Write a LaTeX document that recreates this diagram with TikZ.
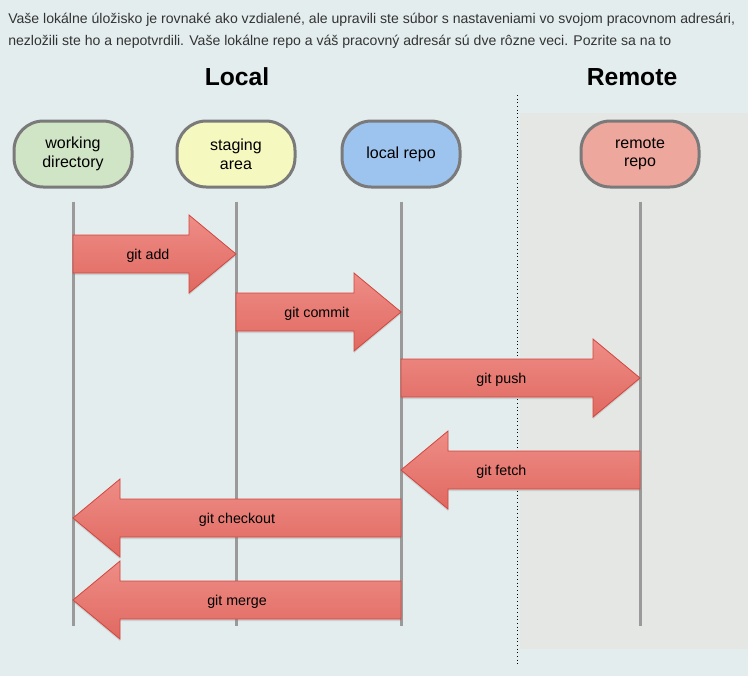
\documentclass[tikz,border=0pt]{standalone}
\usepackage{fontspec}
\setmainfont{Liberation Sans}
\usetikzlibrary{calc,shadows}
\definecolor{pagebg}{HTML}{E4EDEE}
\definecolor{remotebg}{HTML}{E5E7E4}
\definecolor{introgray}{HTML}{333333}
\definecolor{stageline}{HTML}{7A7A7A}
\definecolor{lifegray}{HTML}{9A9A9A}
\definecolor{wdfill}{HTML}{D0E4C6}
\definecolor{safill}{HTML}{F5F8BF}
\definecolor{lrfill}{HTML}{9DC4EF}
\definecolor{rrfill}{HTML}{EDA79D}
\definecolor{arrowtop}{HTML}{EE8D86}
\definecolor{arrowbottom}{HTML}{E06961}
\definecolor{arrowline}{HTML}{D0463E}
\begin{document}
\begin{tikzpicture}[x=0.75pt, y=-0.75pt]
    \tikzset{
        stage/.style     = {draw=stageline, line width=2.25pt, rounded corners=22pt,
                            minimum width=88.5pt, minimum height=49.5pt, align=center,
                            font=\fontsize{12}{14}\selectfont},
        lifeline/.style  = {draw=lifegray, line width=2.25pt},
        gitarrow/.style  = {draw=arrowline, line width=0.6pt, top color=arrowtop,
                            bottom color=arrowbottom,
                            drop shadow={opacity=0.25, shadow xshift=0pt, shadow yshift=-1.5pt}},
        arrowlabel/.style = {font=\fontsize{10.7}{12}\selectfont, yshift=-1.5pt},
        heading/.style   = {font=\fontsize{18.5}{22}\selectfont\bfseries},
        intro/.style     = {anchor=west, inner sep=0pt, text=introgray,
                            font=\fontsize{10.55}{12}\selectfont}
    }
    \path[use as bounding box, fill=pagebg] (0,0) rectangle (748,676);
    \fill[remotebg] (520,113) rectangle (748,649);

    \node[intro] (line1) at (8,20) {Vaše lokálne úložisko je rovnaké ako vzdialené, ale upravili ste súbor s nastaveniami vo svojom pracovnom adresári,};
    \node[intro] (line2) at (8,42) {nezložili ste ho a nepotvrdili. Vaše lokálne repo a váš pracovný adresár sú dve rôzne veci. Pozrite sa na to};

    \node[heading] (local)  at (237,77) {Local};
    \node[heading] (remote) at (632,77) {Remote};
    \coordinate (splittop) at (517,95);
    \coordinate (splitbot) at (517,665);
    \draw[dotted, line width=0.75pt] (splittop) -- (splitbot);

    \node[stage, fill=wdfill] (wd) at (73,154)  {working\\directory};
    \node[stage, fill=safill] (sa) at (236,154) {staging\\area};
    \node[stage, fill=lrfill] (lr) at (401,154) {local repo};
    \node[stage, fill=rrfill] (rr) at (640,154) {remote\\repo};

    \foreach \n in {wd,sa,lr,rr}
        \draw[lifeline] (\n.south) ++(0,13) -- (\n |- 0,626);

    % block arrows between the lifelines
    \foreach \src/\dst/\yy/\pos/\txt in {wd/sa/254/0.46/git add,
                                          sa/lr/312/0.49/git commit,
                                          lr/rr/378/0.42/git push,
                                          rr/lr/470/0.58/git fetch,
                                          lr/wd/518/0.5/git checkout,
                                          lr/wd/600/0.5/git merge}
        \path[gitarrow] let \p1 = (\src |- 0,\yy), \p2 = (\dst |- 0,\yy),
                            \n1 = {sign(\x2-\x1)} in
            (\x1,\y1+14.25pt) -- ({\x2-35.25pt*\n1},\y1+14.25pt)
            -- ({\x2-35.25pt*\n1},\y1+29.25pt) -- (\p2)
            -- ({\x2-35.25pt*\n1},\y1-29.25pt) -- ({\x2-35.25pt*\n1},\y1-14.25pt)
            -- (\x1,\y1-14.25pt) -- cycle
            node[arrowlabel] at ($(\p1)!\pos!(\p2)$) {\txt};
\end{tikzpicture}
\end{document}
